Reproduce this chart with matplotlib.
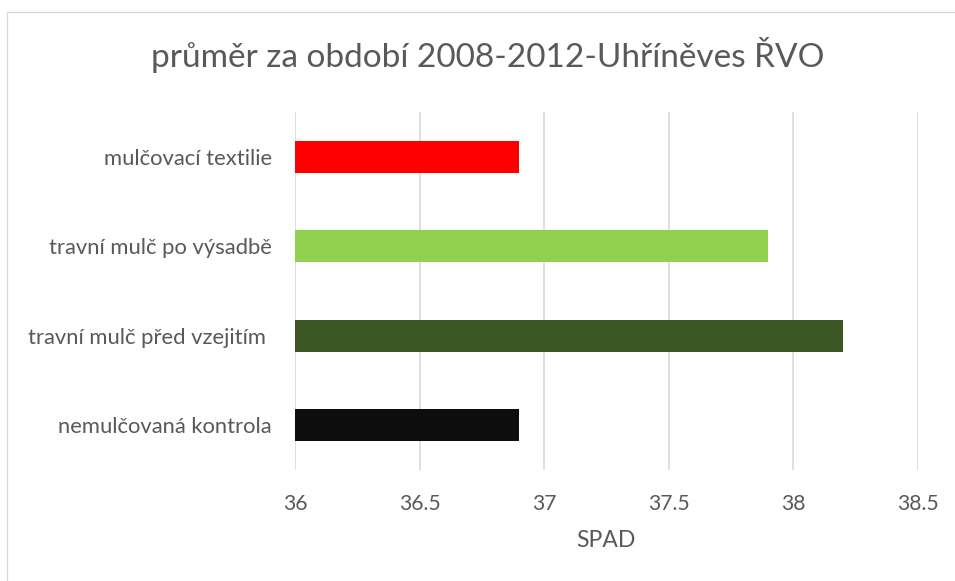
import matplotlib
matplotlib.use("Agg")
import matplotlib.pyplot as plt
from matplotlib.patches import Rectangle

# ---- data ----
categories = ["nemulčovaná kontrola", "travní mulč před vzejitím ", "travní mulč po výsadbě", "mulčovací textilie"]
values = [36.9, 38.2, 37.9, 36.9]
colors = ["#0D0D0D", "#3A5724", "#92D050", "#FF0000"]
xticks = [36, 36.5, 37, 37.5, 38, 38.5]
xtick_labels = ["36", "36.5", "37", "37.5", "38", "38.5"]
title = "průměr za období 2008-2012-Uhříněves ŘVO"
xlabel = "SPAD"

FONT = ["Lato", "DejaVu Sans"]
TXT = "#595959"
GRID = "#D9D9D9"
W, H = 955, 581
plt.rcParams["font.family"] = FONT

fig = plt.figure(figsize=(W / 100, H / 100), dpi=100)
fig.patch.set_facecolor("white")
# outer chart-area border
fig.patches.append(Rectangle((7 / W, -0.1), 1.2, 1 - 12 / H + 0.1, transform=fig.transFigure,
                             fill=False, edgecolor=GRID, linewidth=1.0))

ax = fig.add_axes([295 / W, 1 - 470 / H, (917.5 - 295) / W, (470 - 112) / H])
ax.barh(range(len(categories)), values, height=0.357, color=colors, zorder=3)
ax.set_xlim(36, 38.5)
ax.set_ylim(-0.5, len(categories) - 0.5)
ax.set_xticks(xticks)
ax.set_xticklabels(xtick_labels)
ax.set_yticks(range(len(categories)))
ax.set_yticklabels(categories)
ax.grid(axis="x", color=GRID, linewidth=1.2, zorder=0)
ax.set_axisbelow(True)
for s in ax.spines.values():
    s.set_visible(False)
ax.tick_params(axis="both", length=0, colors=TXT)
ax.tick_params(axis="y", pad=23 * 0.72)
ax.tick_params(axis="x", pad=40 * 0.72)

r = fig.canvas.get_renderer()

def fit(t, target):
    w = t.get_window_extent(r).width
    return t.get_fontsize() * target / w

# y tick labels: size fitted to measured width
ylabs = ax.get_yticklabels()
ys = fit(ylabs[2], 223)
for lbl in ylabs:
    lbl.set_fontsize(ys)
    lbl.set_color(TXT)

xlabs = ax.get_xticklabels()
xs = fit(xlabs[5], 41.7)
for lbl in xlabs:
    lbl.set_fontsize(xs)
    lbl.set_color(TXT)
    lbl.set_va("baseline")

ax.set_xlabel(xlabel, color=TXT, fontsize=xs * 1.08)
ax.xaxis.label.set_va("baseline")
ax.xaxis.set_label_coords(0.5, -(547 - 470) / (470 - 112))

t = fig.text(487.5 / W, 1 - 66.7 / H, title, ha="center", va="baseline", color=TXT, fontsize=24)
t.set_fontsize(fit(t, 675))

fig.savefig("out.png", dpi=100, facecolor="white")
